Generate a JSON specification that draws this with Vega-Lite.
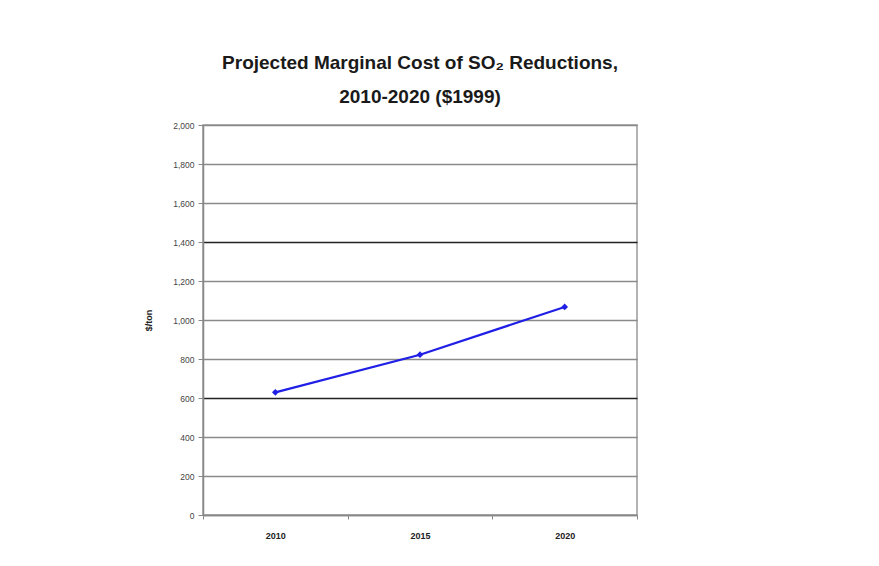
{
  "$schema": "https://vega.github.io/schema/vega-lite/v6.json",
  "autosize": "none",
  "width": 434,
  "height": 390,
  "padding": {"left": 203, "top": 125, "right": 242, "bottom": 51},
  "background": "white",
  "title": {
    "text": ["Projected Marginal Cost of SO₂ Reductions,", "2010-2020 ($1999)"],
    "font": "Liberation Sans",
    "fontSize": 19,
    "fontWeight": "bold",
    "color": "#1a1a1a",
    "lineHeight": 34,
    "anchor": "middle",
    "offset": 14
  },
  "data": {
    "values": [
      {"year": "2010", "cost": 629},
      {"year": "2015", "cost": 822},
      {"year": "2020", "cost": 1067}
    ]
  },
  "config": {
    "view": {"stroke": "#999999", "strokeWidth": 1.5}
  },
  "encoding": {
    "x": {
      "field": "year",
      "type": "ordinal",
      "scale": {"type": "band", "paddingInner": 0, "paddingOuter": 0},
      "axis": {
        "title": null,
        "labelAngle": 0,
        "labelFont": "Liberation Sans",
        "labelFontWeight": "bold",
        "labelFontSize": 9,
        "labelColor": "#222222",
        "labelPadding": 12,
        "tickBand": "extent",
        "tickSize": 4,
        "tickColor": "#888888",
        "domainColor": "#888888",
        "domainWidth": 1.5,
        "grid": false
      }
    },
    "y": {
      "field": "cost",
      "type": "quantitative",
      "scale": {"domain": [0, 2000], "nice": false},
      "axis": {
        "title": "$/ton",
        "titleFont": "Liberation Sans",
        "titleFontWeight": "bold",
        "titleFontSize": 9,
        "titleColor": "#222222",
        "titlePadding": 19,
        "values": [0, 200, 400, 600, 800, 1000, 1200, 1400, 1600, 1800, 2000],
        "format": ",d",
        "labelOverlap": false,
        "labelFont": "Liberation Sans",
        "labelFontSize": 8.5,
        "labelColor": "#444444",
        "labelPadding": 4,
        "tickSize": 5,
        "tickColor": "#888888",
        "domainColor": "#888888",
        "domainWidth": 1.5,
        "grid": true,
        "gridColor": {"condition": {"test": "datum.value == 600 || datum.value == 1400", "value": "#222222"}, "value": "#8a8a8a"},
        "gridWidth": 1.5,
        "gridOpacity": 1
      }
    }
  },
  "layer": [
    {
      "mark": {"type": "line", "color": "#1f1fe6", "strokeWidth": 2.2}
    },
    {
      "mark": {"type": "point", "shape": "diamond", "filled": true, "color": "#1f1fe6", "size": 45, "opacity": 1}
    }
  ]
}
